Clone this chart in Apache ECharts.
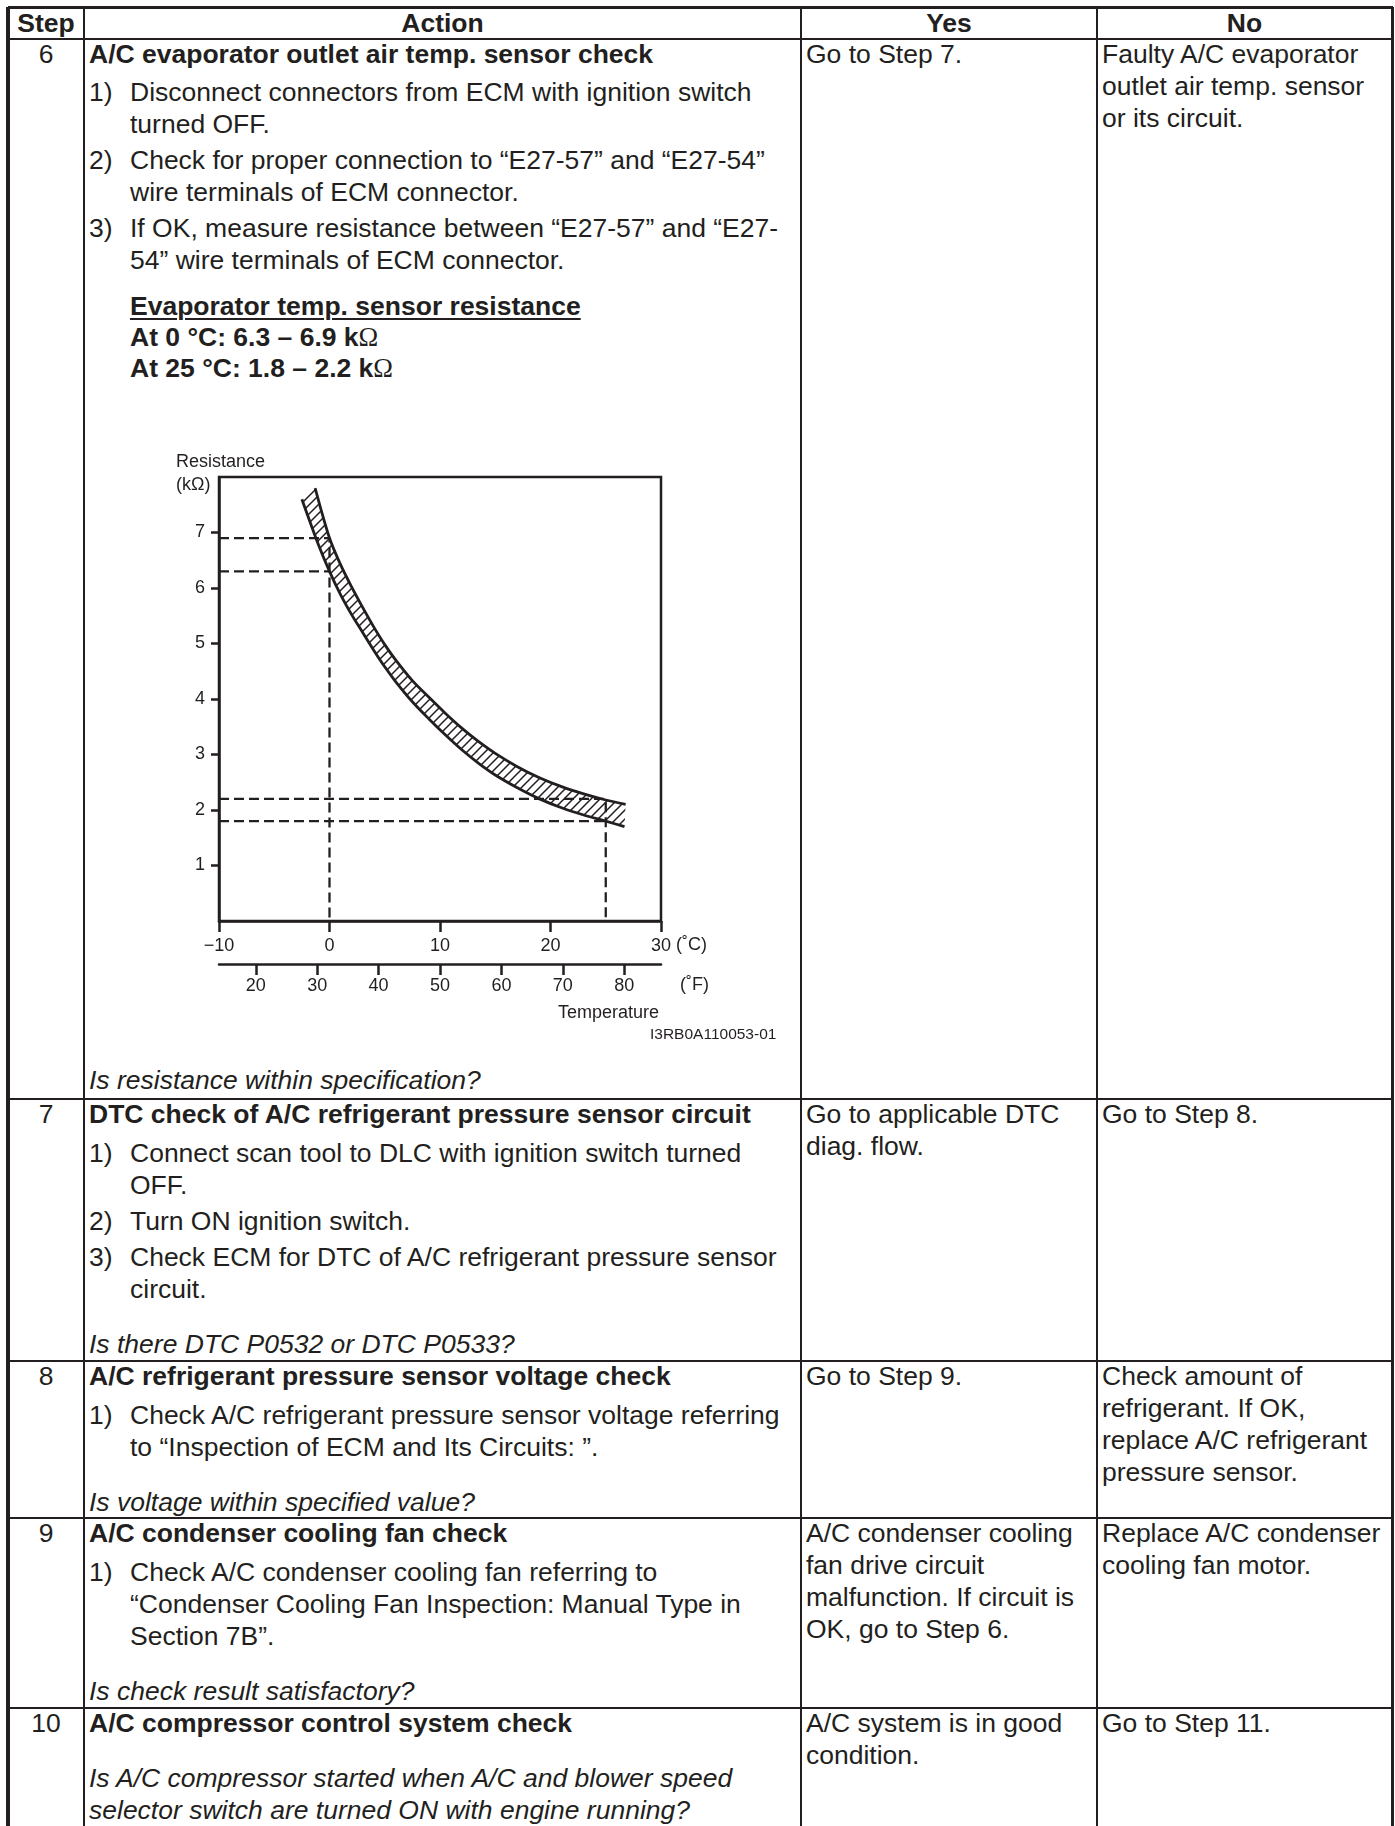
<!DOCTYPE html>
<html><head><meta charset="utf-8">
<script src="https://cdn.jsdelivr.net/npm/echarts@6/dist/echarts.min.js"></script>
<style>
html,body{margin:0;padding:0;background:#fff;}
#page{position:relative;width:1395px;height:1826px;overflow:hidden;font-family:"Liberation Sans",Arial,sans-serif;color:#231f20;font-size:26.5px;}
.ln{position:absolute;white-space:nowrap;height:32px;line-height:32px;}
.b{font-weight:bold}
.i{font-style:italic}
.u{text-decoration:underline;text-decoration-thickness:2px;text-underline-offset:3px}
.om{font-family:"Liberation Serif",serif;font-weight:normal}
.rl{position:absolute;background:#231f20;}
#chart{position:absolute;left:140px;top:440px;width:660px;height:620px;}
</style></head><body><div id="page"><div id="chart"></div></div>
<script>
// ---------- chart data ----------
const upperC = [-1.3, 0, 1, 2, 3, 4, 5, 6, 7.5, 9, 10.5, 12, 13.5, 15, 17, 19, 21, 23, 25, 26.8];
const upperR = [7.8, 6.9, 6.42, 6.02, 5.65, 5.3, 4.98, 4.7, 4.33, 4.03, 3.74, 3.47, 3.23, 3.02, 2.78, 2.58, 2.42, 2.29, 2.18, 2.1];
const lowerC = [-2.5, -1, 0, 1, 2, 3, 4, 5, 6, 7.5, 9, 10.5, 12, 13.5, 15, 17, 19, 21, 23, 25, 26.7];
const lowerR = [7.6, 6.78, 6.3, 5.88, 5.52, 5.2, 4.88, 4.58, 4.31, 3.95, 3.64, 3.35, 3.08, 2.84, 2.63, 2.4, 2.2, 2.04, 1.91, 1.8, 1.7];
const specTemps = [0, 25];          // °C
const specHigh = [6.9, 2.2];        // kΩ
const specLow = [6.3, 1.8];         // kΩ
const cTicks = [-10, 0, 10, 20, 30];
const fTicks = [20, 30, 40, 50, 60, 70, 80];
const rTicks = [1, 2, 3, 4, 5, 6, 7];

// ---------- table text ----------
const header = ['Step', 'Action', 'Yes', 'No'];
const steps = ['6', '7', '8', '9', '10'];

const page = document.getElementById('page');
function put(x, yc, html, cls, center) {
  const d = document.createElement('div');
  d.className = 'ln ' + (cls || '');
  d.style.left = x + 'px';
  d.style.top = (yc - 16) + 'px';
  if (center) d.style.transform = 'translateX(-50%)';
  d.innerHTML = html;
  page.appendChild(d);
}
function lines(x, y0, arr, cls, step) {
  arr.forEach((t, k) => put(x, y0 + k * (step || 32), t, cls));
}
function rule(x, y, w, h) {
  const d = document.createElement('div');
  d.className = 'rl';
  d.style.left = x + 'px'; d.style.top = y + 'px';
  d.style.width = w + 'px'; d.style.height = h + 'px';
  page.appendChild(d);
}
// grid lines
const colX = [8, 84, 801, 1097, 1392];
const rowY = [7, 39, 1099, 1361, 1518, 1708];
rowY.forEach((y, i) => rule(8, y - 1.25, 1385, i === 0 ? 3 : 2.5));
colX.forEach((x, i) => {
  const w = i === 0 ? 3.5 : (i === 4 ? 3 : 2);
  rule(x - w / 2, 7, w, 1826);
});

// header
put(46, 23, header[0], 'b', true);
put(442.5, 23, header[1], 'b', true);
put(949, 23, header[2], 'b', true);
put(1244.5, 23, header[3], 'b', true);

const AX = 89, TX = 130, YX = 806, NX = 1102;
function item(n, y0, arr) {
  put(AX, y0, n + ')');
  lines(TX, y0, arr);
}
// Step 6
put(46, 54, steps[0], '', true);
put(AX, 54, 'A/C evaporator outlet air temp. sensor check', 'b');
item(1, 92, ['Disconnect connectors from ECM with ignition switch', 'turned OFF.']);
item(2, 160, ['Check for proper connection to \u201cE27-57\u201d and \u201cE27-54\u201d', 'wire terminals of ECM connector.']);
item(3, 228, ['If OK, measure resistance between \u201cE27-57\u201d and \u201cE27-', '54\u201d wire terminals of ECM connector.']);
put(TX, 306, 'Evaporator temp. sensor resistance', 'b u');
put(TX, 337, 'At 0 \u00b0C: 6.3 \u2013 6.9 k<span class="om">\u03a9</span>', 'b');
put(TX, 368, 'At 25 \u00b0C: 1.8 \u2013 2.2 k<span class="om">\u03a9</span>', 'b');
put(AX, 1080, 'Is resistance within specification?', 'i');
put(YX, 54, 'Go to Step 7.');
lines(NX, 54, ['Faulty A/C evaporator', 'outlet air temp. sensor', 'or its circuit.']);

// Step 7
put(46, 1114, steps[1], '', true);
put(AX, 1114, 'DTC check of A/C refrigerant pressure sensor circuit', 'b');
item(1, 1153, ['Connect scan tool to DLC with ignition switch turned', 'OFF.']);
item(2, 1221, ['Turn ON ignition switch.']);
item(3, 1257, ['Check ECM for DTC of A/C refrigerant pressure sensor', 'circuit.']);
put(AX, 1344, 'Is there DTC P0532 or DTC P0533?', 'i');
lines(YX, 1114, ['Go to applicable DTC', 'diag. flow.']);
put(NX, 1114, 'Go to Step 8.');

// Step 8
put(46, 1376, steps[2], '', true);
put(AX, 1376, 'A/C refrigerant pressure sensor voltage check', 'b');
item(1, 1415, ['Check A/C refrigerant pressure sensor voltage referring', 'to \u201cInspection of ECM and Its Circuits: \u201d.']);
put(AX, 1502, 'Is voltage within specified value?', 'i');
put(YX, 1376, 'Go to Step 9.');
lines(NX, 1376, ['Check amount of', 'refrigerant. If OK,', 'replace A/C refrigerant', 'pressure sensor.']);

// Step 9
put(46, 1533, steps[3], '', true);
put(AX, 1533, 'A/C condenser cooling fan check', 'b');
item(1, 1572, ['Check A/C condenser cooling fan referring to', '\u201cCondenser Cooling Fan Inspection: Manual Type in', 'Section 7B\u201d.']);
put(AX, 1691, 'Is check result satisfactory?', 'i');
lines(YX, 1533, ['A/C condenser cooling', 'fan drive circuit', 'malfunction. If circuit is', 'OK, go to Step 6.']);
lines(NX, 1533, ['Replace A/C condenser', 'cooling fan motor.']);

// Step 10
put(46, 1723, steps[4], '', true);
put(AX, 1723, 'A/C compressor control system check', 'b');
lines(AX, 1778, ['Is A/C compressor started when A/C and blower speed', 'selector switch are turned ON with engine running?'], 'i');
lines(YX, 1723, ['A/C system is in good', 'condition.']);
put(NX, 1723, 'Go to Step 11.');

// ---------- chart ----------
const INK = '#231f20';
const FONT = 'Liberation Sans';
const G = { left: 79, top: 37, width: 442, height: 444 };

const hatch = document.createElement('canvas');
hatch.width = 9; hatch.height = 9;
(function () {
  const c = hatch.getContext('2d');
  c.strokeStyle = INK; c.lineWidth = 1.5;
  c.beginPath();
  c.moveTo(-1, 10); c.lineTo(10, -1);
  c.moveTo(-1, 1); c.lineTo(1, -1);
  c.moveTo(8, 10); c.lineTo(10, 8);
  c.stroke();
})();

const zip = (xs, ys) => xs.map((x, i) => [x, ys[i]]);
const dashStyle = { color: INK, width: 2.3, type: [10, 5] };
const refSeries = [];
specTemps.forEach((t, i) => {
  refSeries.push({ type: 'line', data: [[cTicks[0], specHigh[i]], [t, specHigh[i]], [t, 0]], symbol: 'none', lineStyle: dashStyle, silent: true, z: 3 });
  refSeries.push({ type: 'line', data: [[cTicks[0], specLow[i]], [t, specLow[i]]], symbol: 'none', lineStyle: dashStyle, silent: true, z: 3 });
});

const chart = echarts.init(document.getElementById('chart'), null, { renderer: 'canvas' });
const lbl = { color: INK, fontFamily: FONT, fontSize: 18 };
chart.setOption({
  animation: false,
  grid: { left: G.left, top: G.top, width: G.width, height: G.height, show: true, borderColor: INK, borderWidth: 2.5, backgroundColor: 'transparent' },
  xAxis: [
    { type: 'value', min: cTicks[0], max: cTicks[cTicks.length - 1], interval: 10, position: 'bottom',
      axisLine: { show: true, onZero: false, lineStyle: { color: INK, width: 2.5 } },
      axisTick: { show: true, inside: false, length: 11, lineStyle: { color: INK, width: 2.5 } },
      axisLabel: Object.assign({ margin: 16, formatter: v => v < 0 ? '\u2212' + Math.abs(v) : String(v) }, lbl),
      splitLine: { show: false } },
    { type: 'value', min: 14, max: 86, position: 'bottom', offset: 43,
      axisLine: { show: true, onZero: false, lineStyle: { color: INK, width: 2.5 } },
      axisTick: { show: true, length: 11, customValues: fTicks, lineStyle: { color: INK, width: 2.5 } },
      axisLabel: Object.assign({ margin: 13, customValues: fTicks }, lbl),
      splitLine: { show: false } }
  ],
  yAxis: { type: 'value', min: 0, max: 8, interval: 1, position: 'left',
    axisLine: { show: true, onZero: false, lineStyle: { color: INK, width: 2.5 } },
    axisTick: { show: true, length: 8, customValues: rTicks, lineStyle: { color: INK, width: 2.5 } },
    axisLabel: Object.assign({ margin: 14, customValues: rTicks }, lbl),
    splitLine: { show: false } },
  graphic: [
    { type: 'text', left: 36, top: 13, style: { text: 'Resistance', fill: INK, font: '18px "' + FONT + '"' } },
    { type: 'text', left: 36, top: 36, style: { text: '(k\u03a9)', fill: INK, font: '18px "' + FONT + '"' } },
    { type: 'text', left: 536, top: 496, style: { text: '(\u02daC)', fill: INK, font: '18px "' + FONT + '"' } },
    { type: 'text', left: 540, top: 536, style: { text: '(\u02daF)', fill: INK, font: '18px "' + FONT + '"' } },
    { type: 'text', left: 418, top: 564, style: { text: 'Temperature', fill: INK, font: '18px "' + FONT + '"' } },
    { type: 'text', left: 510, top: 587, style: { text: 'I3RB0A110053-01', fill: INK, font: '15.5px "' + FONT + '"' } }
  ],
  series: [
    { type: 'custom', data: [[0, 0]], silent: true, z: 1,
      renderItem: function (params, api) {
        const pts = [];
        for (let i = 0; i < upperC.length; i++) pts.push(api.coord([upperC[i], upperR[i]]));
        for (let i = lowerC.length - 1; i >= 0; i--) pts.push(api.coord([lowerC[i], lowerR[i]]));
        return { type: 'polygon', shape: { points: pts }, style: { fill: { image: hatch, repeat: 'repeat' }, stroke: null } };
      } },
    { type: 'line', data: zip(upperC, upperR), symbol: 'none', smooth: 0.3, lineStyle: { color: INK, width: 2.8 }, silent: true, z: 4 },
    { type: 'line', data: zip(lowerC, lowerR), symbol: 'none', smooth: 0.3, lineStyle: { color: INK, width: 2.8 }, silent: true, z: 4 }
  ].concat(refSeries)
});
</script></body></html>
